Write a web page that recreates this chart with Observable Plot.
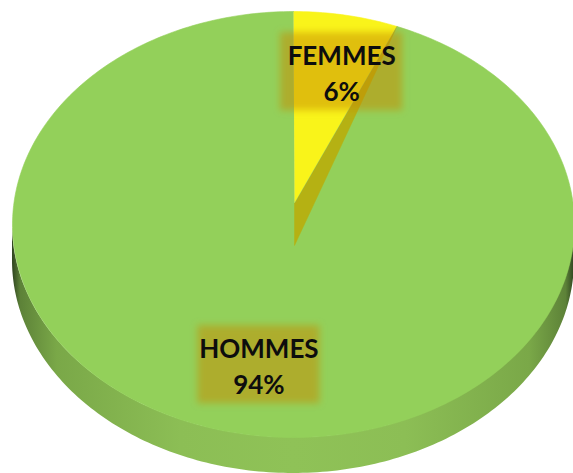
<!DOCTYPE html>
<html><head><meta charset="utf-8">
<script src="https://cdn.jsdelivr.net/npm/d3@7"></script>
<script src="https://cdn.jsdelivr.net/npm/@observablehq/plot@0.6"></script>
<style>html,body{margin:0;padding:0;background:#fff;overflow:hidden}</style>
</head><body><div id="chart"></div>
<script>
// ---- data ----
const categories = ["FEMMES", "HOMMES"];
const values = [6, 94];
const sliceColors = ["#F9F41A", "#93D05A"];

// ---- layout (style, not data) ----
const W = 573, H = 473;
const cx = 293, cy = 224, rx = 281, ry = 213;   // top face ellipse
const apex = [294, 203];                       // perspective centre of top face
const sideDepth = 36, cutDepth = 42;
const labelRadius = 0.7;
const labelNudge = [11, 2];
const boxW = 122, boxH = 78;

const total = d3.sum(values);
const arcs = d3.pie().sort(null).value(d => d.value)(
  categories.map((c, i) => ({label: c, value: values[i], color: sliceColors[i], i}))
);
const edge = a => [cx + rx * Math.sin(a), cy - ry * Math.cos(a)];
const step = Math.PI / 180;

// top faces
const topPts = [];
arcs.forEach(a => {
  const n = Math.max(2, Math.ceil((a.endAngle - a.startAngle) / step));
  topPts.push({slice: a.data.label, x: apex[0], y: apex[1]});
  for (let k = 0; k <= n; k++) {
    const t = a.startAngle + (a.endAngle - a.startAngle) * k / n;
    const [x, y] = edge(t);
    topPts.push({slice: a.data.label, x, y});
  }
});

// front side wall (visible between 90° and 270°)
const sidePts = [];
arcs.forEach(a => {
  const s = Math.max(a.startAngle, Math.PI / 2), e = Math.min(a.endAngle, 3 * Math.PI / 2);
  if (e <= s) return;
  const n = Math.max(2, Math.ceil((e - s) / step));
  for (let k = 0; k <= n; k++) {
    const t = s + (e - s) * k / n;
    const [x, y] = edge(t);
    sidePts.push({slice: a.data.label, x, y1: y, y2: y + sideDepth});
  }
});

// visible radial cut faces
const cutFaces = arcs.filter(a => a.endAngle > 0 && a.endAngle < Math.PI).map(a => {
  const [x, y] = edge(a.endAngle);
  return {color: d3.color(a.data.color).darker(0.9).formatHex(),
          pts: [{x: apex[0], y: apex[1]}, {x: apex[0], y: apex[1] + cutDepth}, {x, y}]};
});

// labels
const labels = arcs.map(a => {
  const m = (a.startAngle + a.endAngle) / 2;
  const [ex, ey] = edge(m);
  const x = apex[0] + labelRadius * (ex - apex[0]) + labelNudge[a.data.i];
  const y = apex[1] + labelRadius * (ey - apex[1]);
  return {x, y, text: `${a.data.label}\n${Math.round(a.value / total * 100)}%`};
});

const plot = Plot.plot({
  width: W, height: H, margin: 0,
  x: {domain: [0, W], range: [0, W], axis: null},
  y: {domain: [0, H], range: [0, H], axis: null},
  color: {domain: categories, range: sliceColors},
  style: {background: "white"},
  marks: [
    Plot.areaY(sidePts, {x: "x", y1: "y1", y2: "y2", z: "slice", fill: "url(#sideGrad)", curve: "linear"}),
    Plot.line(topPts, {x: "x", y: "y", z: "slice", fill: "slice", stroke: "slice", strokeWidth: 0.6, curve: "linear"}),
    ...cutFaces.map(c => Plot.line(c.pts, {x: "x", y: "y", fill: c.color, stroke: c.color, strokeWidth: 0.5, curve: "linear"})),
    Plot.rect(labels, {x1: d => d.x - boxW / 2, x2: d => d.x + boxW / 2, y1: d => d.y - boxH / 2, y2: d => d.y + boxH / 2,
                       fill: "#C88C00", fillOpacity: 0.5}),
    Plot.text(labels, {x: "x", y: "y", text: "text", fontSize: 26, fontWeight: "bold", fontFamily: "Lato",
                       lineHeight: 1.37, fill: "#0d0d0d", textAnchor: "middle", lineAnchor: "middle"})
  ]
});

const svg = d3.select(plot);
const defs = svg.insert("defs", ":first-child");
const g = defs.append("linearGradient").attr("id", "sideGrad").attr("gradientUnits", "userSpaceOnUse")
  .attr("x1", cx - rx).attr("x2", cx + rx).attr("y1", 0).attr("y2", 0);
[[0, "#2f4420"], [0.015, "#5d8238"], [0.08, "#7aa848"], [0.3, "#8cbe55"], [0.5, "#8fc257"],
 [0.7, "#8cbe55"], [0.92, "#7aa848"], [0.985, "#5d8238"], [1, "#2f4420"]]
  .forEach(([o, c]) => g.append("stop").attr("offset", o).attr("stop-color", c));
const f = defs.append("filter").attr("id", "soft").attr("x", "-20%").attr("y", "-20%").attr("width", "140%").attr("height", "140%");
f.append("feGaussianBlur").attr("stdDeviation", 3.5);
svg.selectAll('g[aria-label="rect"]').attr("filter", "url(#soft)");

document.getElementById("chart").appendChild(plot);
</script>
</body></html>
